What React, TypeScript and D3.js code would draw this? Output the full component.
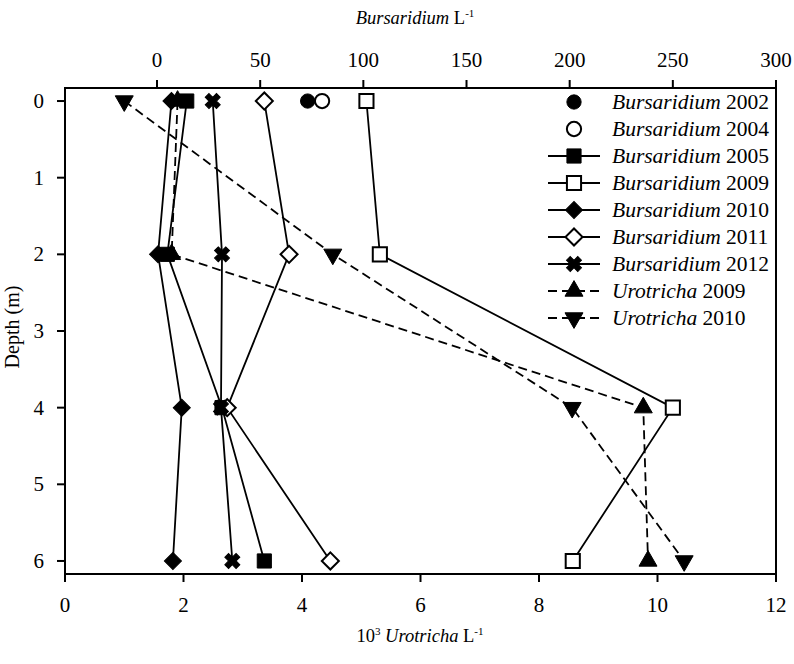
import React from "react";
import * as d3 from "d3";

const depths = [0, 2, 4, 6];
const bursaridium2002 = [73];
const bursaridium2004 = [80];
const bursaridium2005 = [14.4, 5, 31.5, 52];
const bursaridium2009 = [101.5, 108, 250, 201.5];
const bursaridium2010 = [7, 0.5, 12, 7.7];
const bursaridium2011 = [52, 64, 34, 84];
const bursaridium2012 = [27, 31.5, 31, 36.5];
const urotricha2009 = [1.9, 1.8, 9.76, 9.84];
const urotricha2010 = [1.0, 4.52, 8.56, 10.45];

const topTicks = [0, 50, 100, 150, 200, 250, 300];
const bottomTicks = [0, 2, 4, 6, 8, 10, 12];
const depthTicks = [0, 1, 2, 3, 4, 5, 6];

type Series = {
  label: string;
  italic: string;
  year: string;
  values: number[];
  axis: "top" | "bottom";
  symbol: "circle" | "square" | "diamond" | "x" | "up" | "down";
  filled: boolean;
  line: "none" | "solid" | "dashed";
};

const series: Series[] = [
  { label: "B2002", italic: "Bursaridium", year: "2002", values: bursaridium2002, axis: "top", symbol: "circle", filled: true, line: "none" },
  { label: "B2004", italic: "Bursaridium", year: "2004", values: bursaridium2004, axis: "top", symbol: "circle", filled: false, line: "none" },
  { label: "B2005", italic: "Bursaridium", year: "2005", values: bursaridium2005, axis: "top", symbol: "square", filled: true, line: "solid" },
  { label: "B2009", italic: "Bursaridium", year: "2009", values: bursaridium2009, axis: "top", symbol: "square", filled: false, line: "solid" },
  { label: "B2010", italic: "Bursaridium", year: "2010", values: bursaridium2010, axis: "top", symbol: "diamond", filled: true, line: "solid" },
  { label: "B2011", italic: "Bursaridium", year: "2011", values: bursaridium2011, axis: "top", symbol: "diamond", filled: false, line: "solid" },
  { label: "B2012", italic: "Bursaridium", year: "2012", values: bursaridium2012, axis: "top", symbol: "x", filled: true, line: "solid" },
  { label: "U2009", italic: "Urotricha", year: "2009", values: urotricha2009, axis: "bottom", symbol: "up", filled: true, line: "dashed" },
  { label: "U2010", italic: "Urotricha", year: "2010", values: urotricha2010, axis: "bottom", symbol: "down", filled: true, line: "dashed" },
];

const L = 65, R = 776, T = 88, B = 574;
const FONT = "'Liberation Serif', 'Times New Roman', serif";

const xTop = d3.scaleLinear().domain([-44.6, 300]).range([L, R]);
const xBot = d3.scaleLinear().domain([0, 12]).range([L, R]);
const y = d3.scaleLinear().domain([-0.17, 6.17]).range([T, B]);

function symbolPath(s: Series["symbol"]): { d: string; rot: number } {
  switch (s) {
    case "circle":
      return { d: d3.symbol(d3.symbolCircle, 160)() || "", rot: 0 };
    case "square":
      return { d: d3.symbol(d3.symbolSquare, 200)() || "", rot: 0 };
    case "diamond":
      return { d: d3.symbol(d3.symbolSquare, 145)() || "", rot: 45 };
    case "x":
      return { d: d3.symbol(d3.symbolCross, 140)() || "", rot: 45 };
    case "up":
      return { d: d3.symbol(d3.symbolTriangle, 140)() || "", rot: 0 };
    case "down":
      return { d: d3.symbol(d3.symbolTriangle, 140)() || "", rot: 180 };
  }
}

function Marker({ s, x, yy }: { s: Series; x: number; yy: number }) {
  const p = symbolPath(s.symbol);
  return (
    <path
      d={p.d}
      transform={`translate(${x},${yy}) rotate(${p.rot})`}
      fill={s.filled ? "#000" : "#fff"}
      stroke="#000"
      strokeWidth={s.filled ? 1 : 2}
    />
  );
}

export default function App() {
  const lineGen = d3.line<[number, number]>().x((d) => d[0]).y((d) => d[1]);
  const legendX = 574;
  const legendY0 = 102;
  const legendDy = 27;
  return (
    <svg width={794} height={664} style={{ display: "block", position: "absolute", left: 0, top: 0 }} fontFamily={FONT}>
      <rect width={794} height={664} fill="#fff" />
      <rect x={L} y={T} width={R - L} height={B - T} fill="none" stroke="#000" strokeWidth={2} />
      {topTicks.map((t) => (
        <g key={"t" + t}>
          <line x1={xTop(t)} x2={xTop(t)} y1={T} y2={T - 8} stroke="#000" strokeWidth={2} />
          <text x={xTop(t)} y={67} textAnchor="middle" fontSize={21}>{t}</text>
        </g>
      ))}
      {bottomTicks.map((t) => (
        <g key={"b" + t}>
          <line x1={xBot(t)} x2={xBot(t)} y1={B} y2={B + 8} stroke="#000" strokeWidth={2} />
          <text x={xBot(t)} y={612} textAnchor="middle" fontSize={21}>{t}</text>
        </g>
      ))}
      {depthTicks.map((t) => (
        <g key={"d" + t}>
          <line x1={L} x2={L - 8} y1={y(t)} y2={y(t)} stroke="#000" strokeWidth={2} />
          <text x={L - 21} y={y(t) + 7} textAnchor="end" fontSize={21}>{t}</text>
        </g>
      ))}
      <text x={415} y={24} textAnchor="middle" fontSize={18.5}>
        <tspan fontStyle="italic">Bursaridium</tspan>
        <tspan> L</tspan>
        <tspan fontSize={11} dy={-7}>-1</tspan>
      </text>
      <text x={420} y={642} textAnchor="middle" fontSize={18.5}>
        <tspan>10</tspan>
        <tspan fontSize={11} dy={-7}>3</tspan>
        <tspan dy={7} fontStyle="italic"> Urotricha</tspan>
        <tspan> L</tspan>
        <tspan fontSize={11} dy={-7}>-1</tspan>
      </text>
      <text transform={`translate(19,${(T + B) / 2 - 4}) rotate(-90)`} textAnchor="middle" fontSize={20}>Depth (m)</text>
      {series.map((s) => {
        if (s.line === "none") return null;
        const sx = s.axis === "top" ? xTop : xBot;
        const pts: [number, number][] = s.values.map((v, i) => [sx(v), y(depths[i])]);
        return (
          <path
            key={"l" + s.label}
            d={lineGen(pts) || ""}
            fill="none"
            stroke="#000"
            strokeWidth={1.8}
            strokeDasharray={s.line === "dashed" ? "9,5" : undefined}
          />
        );
      })}
      {series.map((s) => {
        const sx = s.axis === "top" ? xTop : xBot;
        return (
          <g key={"m" + s.label}>
            {s.values.map((v, i) => (
              <Marker key={i} s={s} x={sx(v)} yy={y(depths[i])} />
            ))}
          </g>
        );
      })}
      {series.map((s, i) => {
        const yy = legendY0 + i * legendDy;
        return (
          <g key={"lg" + s.label}>
            {s.line !== "none" && (
              <line
                x1={legendX - 26}
                x2={legendX + 26}
                y1={yy}
                y2={yy}
                stroke="#000"
                strokeWidth={1.8}
                strokeDasharray={s.line === "dashed" ? "9,5" : undefined}
              />
            )}
            <Marker s={s} x={legendX} yy={yy} />
            <text x={612} y={yy + 7} fontSize={21.5}>
              <tspan fontStyle="italic">{s.italic}</tspan>
              <tspan> {s.year}</tspan>
            </text>
          </g>
        );
      })}
    </svg>
  );
}
